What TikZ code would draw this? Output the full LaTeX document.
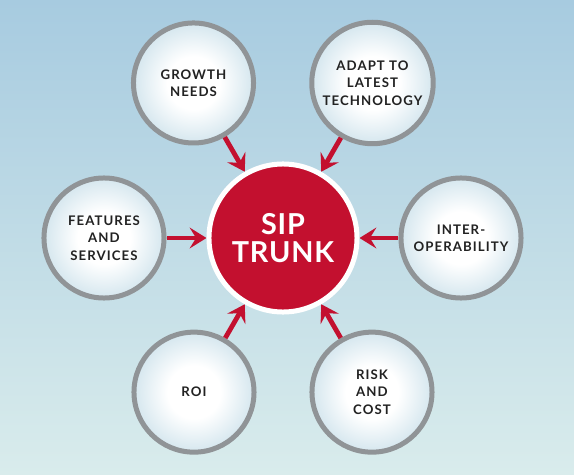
\documentclass[tikz,border=0pt]{standalone}
\usepackage{fontspec}
\setmainfont{Lato}
\newfontfamily\bubblefont[LetterSpace=8]{Lato}
\newfontfamily\trunkfont[LetterSpace=3]{Lato}
\usetikzlibrary{arrows.meta}
\definecolor{trunkred}{HTML}{C3102F}
\definecolor{ringgray}{HTML}{909497}
\definecolor{skytop}{HTML}{A7CBE0}
\definecolor{skybottom}{HTML}{D9ECEC}
\definecolor{bubbleedge}{HTML}{CFE3EC}
\definecolor{inktext}{HTML}{222222}
\pgfdeclareradialshading{bubbleglow}{\pgfpoint{0bp}{0bp}}{color(0bp)=(white);
  color(11bp)=(white); color(27bp)=(bubbleedge); color(50bp)=(bubbleedge)}
\tikzset{
  bubble/.style={circle, draw=ringgray, line width=0.125cm, shade, shading=bubbleglow,
    minimum size=3cm, align=center, text=inktext,
    font=\bubblefont\bfseries\fontsize{9.4}{12.4}\selectfont},
  trunk/.style={circle, draw=white, line width=0.125cm, fill=trunkred,
    minimum size=3.7cm, align=center, text=white,
    font=\trunkfont\bfseries\fontsize{20.5}{20}\selectfont},
  feed/.style={draw=trunkred, line width=0.12cm,
    -{Stealth[length=0.42cm,width=0.52cm,inset=0.16cm]}}
}
\begin{document}
\begin{tikzpicture}[x=0.025cm,y=0.025cm]
  \fill[top color=skytop, bottom color=skybottom] (-283,-237) rectangle (291,238);
  \node[trunk] (sip) at (0,0) {SIP\\TRUNK};
  \node[bubble] (growth) at (120:179) {GROWTH\\NEEDS};
  \node[bubble] (adapt) at (60:179) {ADAPT TO\\LATEST\\TECHNOLOGY};
  \node[bubble] (features) at (180:179) {FEATURES\\AND\\SERVICES};
  \node[bubble] (inter) at (0:178) {INTER-\\OPERABILITY};
  \node[bubble] (roi) at (240:178) {ROI};
  \node[bubble] (risk) at (300:178) {RISK\\AND\\COST};
  \foreach \n in {growth,adapt,features,inter,roi,risk}
    \draw[feed] (\n) -- (sip);
\end{tikzpicture}
\end{document}
